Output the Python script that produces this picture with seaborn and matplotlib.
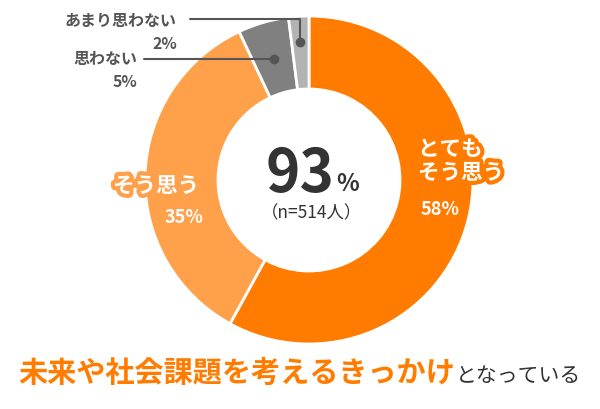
import numpy as np
import seaborn as sns
import matplotlib.pyplot as plt
import matplotlib.patheffects as pe

sns.set_theme(style="white")
plt.rcParams['font.family'] = ['Noto Sans CJK JP', 'DejaVu Sans']

# データ
labels = ['とても\nそう思う', 'そう思う', '思わない', 'あまり思わない']
values = [58, 35, 5, 2]
colors = ['#FF7C00', '#FFA14B', '#808080', '#B3B3B3']
total_pct = 93
n_resp = 514

W, H = 600, 410
fig = plt.figure(figsize=(W / 100, H / 100), dpi=100)
ax = fig.add_axes([0, 0, 1, 1])

def py(y):
    # ピクセル座標(上から) -> データ座標
    return H - y

cx, cy, R = 309, py(181), 164
wedges, _ = ax.pie(values, colors=colors, startangle=90, counterclock=False,
                   center=(cx, cy), radius=R, frame=True,
                   wedgeprops=dict(width=R * 0.445, edgecolor='white', linewidth=2))
ax.set_xlim(0, W)
ax.set_ylim(0, H)
ax.axis('off')

dark = '#333333'
gray = '#555555'

# 中央
ax.text(334, py(175), f'{total_pct}', fontsize=42, fontweight='bold', color=dark,
        ha='right', va='center')
ax.text(336, py(184), '%', fontsize=17, fontweight='bold', color=dark,
        ha='left', va='center')
ax.text(312, py(213), f'（n={n_resp}人）', fontsize=12.5, color=dark,
        ha='center', va='center')

# スライス内ラベル
ax.text(418, py(162), labels[0], fontsize=15.5, fontweight='bold', color='white',
        ha='left', va='center', linespacing=1.15,
        path_effects=[pe.withStroke(linewidth=6, foreground=colors[0])])
ax.text(440, py(210), f'{values[0]}%', fontsize=13, fontweight='bold', color='white',
        ha='center', va='center')
ax.text(156, py(187), labels[1], fontsize=15.5, fontweight='bold', color='white',
        ha='center', va='center',
        path_effects=[pe.withStroke(linewidth=6, foreground=colors[1])])
ax.text(184, py(218), f'{values[1]}%', fontsize=13, fontweight='bold', color='white',
        ha='center', va='center')

# 引き出し線ラベル: 点はスライス中央の角度上に置く
cum = np.cumsum([0] + values)
def dot_x(i, y):
    frac = (cum[i] + cum[i + 1]) / 2 / sum(values)
    return cx + (y - cy) * np.tan(np.deg2rad(frac * 360 - 360))

# 思わない
dy = py(60)
dx = dot_x(2, dy)
ax.plot([144, dx], [dy, dy], color=gray, lw=1.5)
ax.plot(dx, dy, 'o', color=gray, ms=6)
ax.text(137, py(59), labels[2], fontsize=11.5, fontweight='bold', color=gray,
        ha='right', va='center')
ax.text(137, py(82), f'{values[2]}%', fontsize=11.5, fontweight='bold', color=gray,
        ha='right', va='center')

# あまり思わない
dy = py(43)
dx = dot_x(3, dy)
ly = py(20)
ax.plot([190, dx, dx], [ly, ly, dy], color=gray, lw=1.5)
ax.plot(dx, dy, 'o', color=gray, ms=6)
ax.text(177, py(21), labels[3], fontsize=11.5, fontweight='bold', color=gray,
        ha='right', va='center')
ax.text(177, py(44), f'{values[3]}%', fontsize=11.5, fontweight='bold', color=gray,
        ha='right', va='center')

# タイトル
ax.text(455, py(382), '未来や社会課題を考えるきっかけ', fontsize=21, fontweight='bold',
        color='#FF7C00', ha='right', va='baseline')
ax.text(456, py(382), 'となっている', fontsize=15, color=dark,
        ha='left', va='baseline')

fig.savefig('out.png', dpi=100, facecolor='white')
